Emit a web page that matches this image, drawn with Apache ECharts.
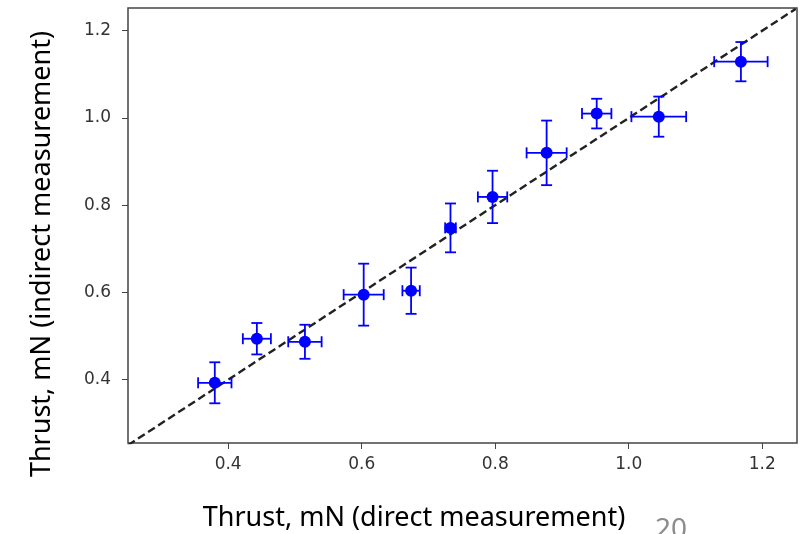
<!DOCTYPE html>
<html><head><meta charset="utf-8">
<script src="https://cdn.jsdelivr.net/npm/echarts@6/dist/echarts.min.js"></script>
<style>html,body{margin:0;padding:0;background:#fff}#c{width:805px;height:534px}</style>
</head><body><div id="c"></div>
<script>
const xDirect = [0.380, 0.443, 0.515, 0.603, 0.674, 0.733, 0.796, 0.877, 0.952, 1.045, 1.168];
const yIndirect = [0.393, 0.494, 0.487, 0.595, 0.604, 0.748, 0.819, 0.920, 1.010, 1.003, 1.129];
const xErr = [0.025, 0.021, 0.025, 0.030, 0.013, 0.008, 0.022, 0.030, 0.022, 0.041, 0.040];
const yErr = [0.047, 0.036, 0.039, 0.071, 0.053, 0.056, 0.060, 0.074, 0.034, 0.046, 0.045];
const tickValues = [0.4, 0.6, 0.8, 1.0, 1.2];
const tickLabels = ['0.4', '0.6', '0.8', '1.0', '1.2'];
const refLine = [[0.25, 0.25], [1.25, 1.25]];

const pts = xDirect.map((x, i) => [x, yIndirect[i]]);
const errData = xDirect.map((x, i) => [x, yIndirect[i], xErr[i], yErr[i]]);
const blue = '#0000ff';

function renderErr(params, api) {
  const x = api.value(0), y = api.value(1), dx = api.value(2), dy = api.value(3);
  const l = api.coord([x - dx, y]), r = api.coord([x + dx, y]);
  const t = api.coord([x, y + dy]), b = api.coord([x, y - dy]);
  const c = 5.5;
  const st = {stroke: blue, lineWidth: 1.8, fill: null};
  const seg = (x1, y1, x2, y2) => ({type: 'line', shape: {x1, y1, x2, y2}, style: st});
  return {type: 'group', children: [
    seg(l[0], l[1], r[0], r[1]),
    seg(t[0], t[1], b[0], b[1]),
    seg(l[0], l[1] - c, l[0], l[1] + c),
    seg(r[0], r[1] - c, r[0], r[1] + c),
    seg(t[0] - c, t[1], t[0] + c, t[1]),
    seg(b[0] - c, b[1], b[0] + c, b[1])
  ]};
}

const labelFmt = v => {
  const i = tickValues.findIndex(t => Math.abs(t - v) < 1e-9);
  return i >= 0 ? tickLabels[i] : '';
};
function axisCfg(margin) {
  return {
    type: 'value',
    splitLine: {show: false},
    axisLine: {show: false},
    axisTick: {show: true, inside: false, length: 6, customValues: tickValues, lineStyle: {color: '#444', width: 1}},
    axisLabel: {customValues: tickValues, formatter: labelFmt, color: '#333', fontSize: 17, fontFamily: 'DejaVu Sans', margin: margin}
  };
}

const chart = echarts.init(document.getElementById('c'), null, {renderer: 'canvas'});
chart.setOption({
  animation: false,
  backgroundColor: '#fff',
  grid: {left: 128, right: 8, top: 8, bottom: 91, show: true, borderColor: '#444', borderWidth: 1.5, backgroundColor: 'transparent'},
  xAxis: Object.assign(axisCfg(13), {min: 0.25, max: 1.252}),
  yAxis: Object.assign(axisCfg(17), {min: 0.255, max: 1.252}),
  graphic: [
    {type: 'text', x: 414, y: 518, style: {text: 'Thrust, mN (direct measurement)', font: '27px "Noto Sans"', fill: '#000', align: 'center', verticalAlign: 'middle'}},
    {type: 'text', x: 42, y: 254, rotation: Math.PI / 2, style: {text: 'Thrust, mN (indirect measurement)', font: '27px "Noto Sans"', fill: '#000', align: 'center', verticalAlign: 'middle'}},
    {type: 'text', x: 671, y: 530, style: {text: '20', font: '28px "Noto Sans"', fill: '#8c8c8c', align: 'center', verticalAlign: 'middle'}}
  ],
  series: [
    {type: 'line', data: refLine, symbol: 'none', clip: true, lineStyle: {color: '#222', width: 2.4, type: [8, 4]}, z: 2},
    {type: 'custom', data: errData, renderItem: renderErr, clip: true, z: 3},
    {type: 'scatter', data: pts, symbol: 'circle', symbolSize: 12, itemStyle: {color: blue, opacity: 1}, z: 4}
  ]
});
</script></body></html>
